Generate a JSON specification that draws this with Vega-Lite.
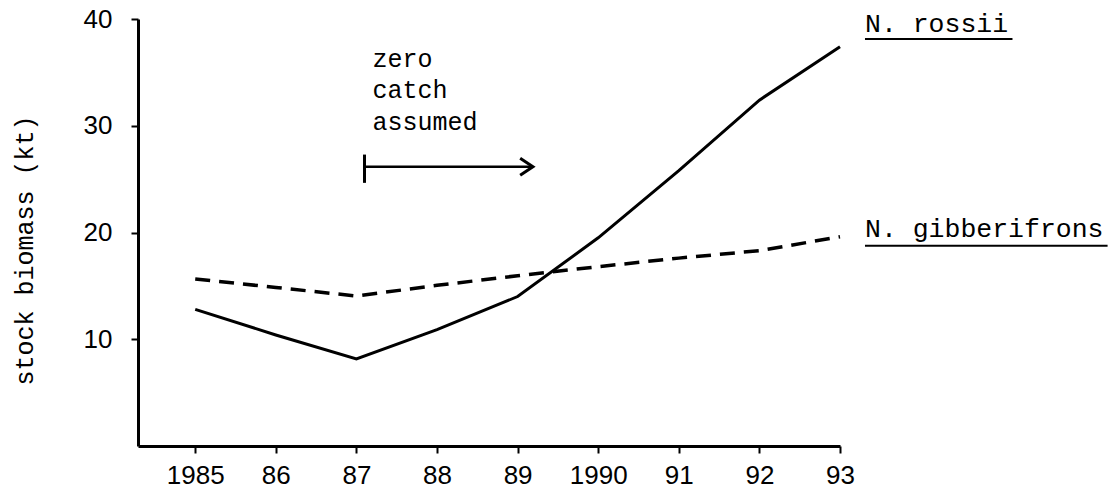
{
  "$schema": "https://vega.github.io/schema/vega-lite/v6.json",
  "autosize": "none",
  "width": 702,
  "height": 427,
  "padding": {"left": 138, "top": 19, "right": 275, "bottom": 42},
  "background": "white",
  "view": {"stroke": null},
  "config": {
    "font": "Liberation Mono",
    "axis": {"domainColor": "black", "tickColor": "black", "labelColor": "black", "titleColor": "black", "grid": false}
  },
  "datasets": {
    "series": [
      {"year": 1985, "biomass": 12.8, "species": "N. rossii"},
      {"year": 1986, "biomass": 10.4, "species": "N. rossii"},
      {"year": 1987, "biomass": 8.15, "species": "N. rossii"},
      {"year": 1988, "biomass": 10.9, "species": "N. rossii"},
      {"year": 1989, "biomass": 14.0, "species": "N. rossii"},
      {"year": 1990, "biomass": 19.5, "species": "N. rossii"},
      {"year": 1991, "biomass": 25.8, "species": "N. rossii"},
      {"year": 1992, "biomass": 32.4, "species": "N. rossii"},
      {"year": 1993, "biomass": 37.4, "species": "N. rossii"},
      {"year": 1985, "biomass": 15.65, "species": "N. gibberifrons"},
      {"year": 1986, "biomass": 14.85, "species": "N. gibberifrons"},
      {"year": 1987, "biomass": 14.05, "species": "N. gibberifrons"},
      {"year": 1988, "biomass": 15.05, "species": "N. gibberifrons"},
      {"year": 1989, "biomass": 15.95, "species": "N. gibberifrons"},
      {"year": 1990, "biomass": 16.8, "species": "N. gibberifrons"},
      {"year": 1991, "biomass": 17.6, "species": "N. gibberifrons"},
      {"year": 1992, "biomass": 18.3, "species": "N. gibberifrons"},
      {"year": 1993, "biomass": 19.6, "species": "N. gibberifrons"}
    ],
    "notes": [
      {"year": 1987.2, "biomass": 36.27, "text": "zero"},
      {"year": 1987.2, "biomass": 33.36, "text": "catch"},
      {"year": 1987.2, "biomass": 30.37, "text": "assumed"}
    ],
    "species_labels": [
      {"year": 1993.31, "biomass": 39.55, "text": "N. rossii"},
      {"year": 1993.31, "biomass": 20.34, "text": "N. gibberifrons"}
    ],
    "underlines": [
      {"year": 1993.31, "year2": 1995.14, "biomass": 38.12},
      {"year": 1993.31, "year2": 1996.32, "biomass": 18.77}
    ],
    "arrow": [
      {"year": 1987.1, "year2": 1989.19, "biomass": 26.15, "ylo": 24.65, "yhi": 27.3}
    ]
  },
  "encoding": {
    "x": {
      "field": "year", "type": "quantitative",
      "scale": {"domain": [1984.29, 1993], "nice": false, "zero": false},
      "axis": {
        "title": null,
        "values": [1985, 1986, 1987, 1988, 1989, 1990, 1991, 1992, 1993],
        "labelExpr": "(datum.value == 1985 || datum.value == 1990) ? '' + datum.value : slice('' + datum.value, 2)",
        "labelFont": "Liberation Sans",
        "labelFontSize": 26,
        "labelPadding": 9,
        "tickSize": 7,
        "tickWidth": 2,
        "domainWidth": 3,
        "labelFlush": false,
        "labelOverlap": false
      }
    },
    "y": {
      "field": "biomass", "type": "quantitative",
      "scale": {"domain": [0, 40], "nice": false},
      "axis": {
        "title": "stock biomass (kt)",
        "titleFont": "Liberation Mono",
        "titleFontSize": 25,
        "titleFontWeight": "normal",
        "titleX": -114,
        "titleY": 231,
        "titleAngle": -90,
        "titleAlign": "center",
        "titleBaseline": "middle",
        "values": [10, 20, 30, 40],
        "labelFont": "Liberation Sans",
        "labelFontSize": 26,
        "labelPadding": 19,
        "tickSize": 7,
        "tickWidth": 2,
        "domainWidth": 3,
        "labelFlush": false,
        "labelOverlap": false
      }
    }
  },
  "layer": [
    {
      "data": {"name": "series"},
      "transform": [{"filter": "datum.species === 'N. rossii'"}],
      "mark": {"type": "line", "color": "black", "strokeWidth": 3, "clip": false}
    },
    {
      "data": {"name": "series"},
      "transform": [{"filter": "datum.species === 'N. gibberifrons'"}],
      "mark": {"type": "line", "color": "black", "strokeWidth": 3.5, "strokeDash": [15, 9], "clip": false}
    },
    {
      "data": {"name": "arrow"},
      "mark": {"type": "rule", "color": "black", "strokeWidth": 2.5},
      "encoding": {
        "x2": {"field": "year2"}
      }
    },
    {
      "data": {"name": "arrow"},
      "mark": {"type": "rule", "color": "black", "strokeWidth": 3},
      "encoding": {
        "y": {"field": "ylo", "type": "quantitative"},
        "y2": {"field": "yhi"}
      }
    },
    {
      "data": {"name": "arrow"},
      "mark": {"type": "point", "shape": "M -1.5 -1 L 0 0 L -1.5 1", "filled": false, "color": "black", "strokeWidth": 3, "size": 289, "opacity": 1},
      "encoding": {
        "x": {"field": "year2", "type": "quantitative"}
      }
    },
    {
      "data": {"name": "notes"},
      "mark": {"type": "text", "align": "left", "baseline": "middle", "font": "Liberation Mono", "fontSize": 25, "color": "black"},
      "encoding": {
        "text": {"field": "text"}
      }
    },
    {
      "data": {"name": "species_labels"},
      "mark": {"type": "text", "align": "left", "baseline": "middle", "font": "Liberation Mono", "fontSize": 26.5, "color": "black"},
      "encoding": {
        "text": {"field": "text"}
      }
    },
    {
      "data": {"name": "underlines"},
      "mark": {"type": "rule", "color": "black", "strokeWidth": 2},
      "encoding": {
        "x2": {"field": "year2"}
      }
    }
  ]
}
